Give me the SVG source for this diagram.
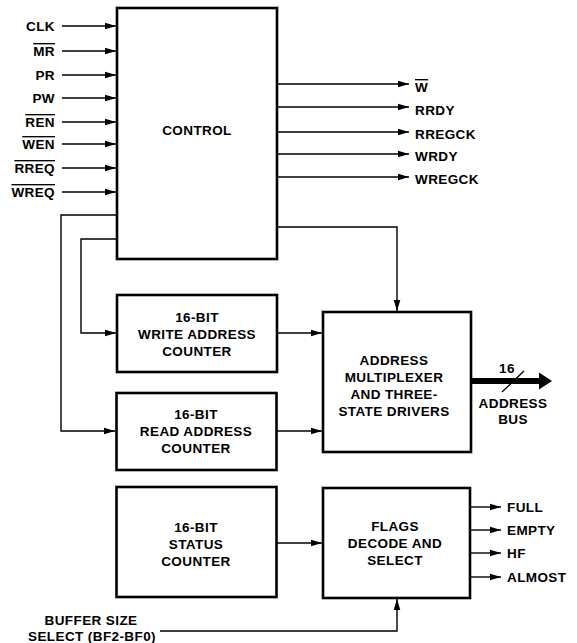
<svg xmlns="http://www.w3.org/2000/svg" width="577" height="643" viewBox="0 0 577 643">
<defs>
<marker id="ah" markerUnits="userSpaceOnUse" markerWidth="12" markerHeight="8" refX="11" refY="4" orient="auto">
<path d="M0,0.7 L11,4 L0,7.3 Z" fill="#000"/>
</marker>
</defs>
<style>
text{font-family:"Liberation Sans",Arial,sans-serif;font-weight:bold;font-size:13.5px;letter-spacing:0.4px;fill:#000}
.c{text-anchor:middle}
.r{text-anchor:end}
.box{fill:#fff;stroke:#000;stroke-width:2.6}
.ln{fill:none;stroke:#000;stroke-width:1.4}
.ob{text-decoration:overline}
</style>
<rect width="577" height="643" fill="#fff"/>

<g id="control"><rect class="box" x="117" y="8" width="160" height="251"/><text class="c" x="197" y="135">CONTROL</text></g>
<g id="write-counter"><rect class="box" x="117" y="295" width="160" height="77"/>
<text class="c" x="197" y="322">16-BIT</text><text class="c" x="197" y="339">WRITE ADDRESS</text><text class="c" x="197" y="356">COUNTER</text></g>
<g id="read-counter"><rect class="box" x="116.5" y="393" width="160" height="77"/>
<text class="c" x="196" y="419">16-BIT</text><text class="c" x="196" y="436">READ ADDRESS</text><text class="c" x="196" y="453">COUNTER</text></g>
<g id="status-counter"><rect class="box" x="116.5" y="487" width="160" height="110"/>
<text class="c" x="196" y="532">16-BIT</text><text class="c" x="196" y="549">STATUS</text><text class="c" x="196" y="566">COUNTER</text></g>
<g id="mux"><rect class="box" x="323" y="312" width="148" height="140"/>
<text class="c" x="394" y="365">ADDRESS</text><text class="c" x="394" y="382">MULTIPLEXER</text><text class="c" x="394" y="399">AND THREE-</text><text class="c" x="394" y="416">STATE DRIVERS</text></g>
<g id="flags"><rect class="box" x="323" y="488" width="147" height="110"/>
<text class="c" x="395" y="531">FLAGS</text><text class="c" x="395" y="548">DECODE AND</text><text class="c" x="395" y="565">SELECT</text></g>

<g id="inputs">
<text class="r" x="55" y="31">CLK</text>
<text class="r" x="55" y="56"><tspan class="ob">MR</tspan></text>
<text class="r" x="55" y="80">PR</text>
<text class="r" x="55" y="103">PW</text>
<text class="r" x="55" y="127"><tspan class="ob">REN</tspan></text>
<text class="r" x="55" y="149"><tspan class="ob">WEN</tspan></text>
<text class="r" x="55" y="173"><tspan class="ob">RREQ</tspan></text>
<text class="r" x="55" y="197"><tspan class="ob">WREQ</tspan></text>
</g>
<g id="outputs">
<text x="415" y="92"><tspan class="ob">W</tspan></text>
<text x="415" y="115">RRDY</text>
<text x="415" y="139">RREGCK</text>
<text x="415" y="161">WRDY</text>
<text x="415" y="184">WREGCK</text>
<text x="507" y="512">FULL</text>
<text x="507" y="535">EMPTY</text>
<text x="507" y="558">HF</text>
<text x="507" y="582">ALMOST</text>
</g>
<g id="bus-labels">
<text class="c" x="507" y="373">16</text>
<text class="c" x="513" y="408">ADDRESS</text>
<text class="c" x="513" y="424">BUS</text>
</g>
<g id="buffer-select">
<text class="c" x="91" y="625">BUFFER SIZE</text>
<text class="c" x="92" y="641">SELECT (BF2-BF0)</text>
</g>

<g id="connectors">
<path class="ln" marker-end="url(#ah)" d="M62,26 H116"/>
<path class="ln" marker-end="url(#ah)" d="M62,51 H116"/>
<path class="ln" marker-end="url(#ah)" d="M62,75 H116"/>
<path class="ln" marker-end="url(#ah)" d="M62,98 H116"/>
<path class="ln" marker-end="url(#ah)" d="M62,122 H116"/>
<path class="ln" marker-end="url(#ah)" d="M62,144 H116"/>
<path class="ln" marker-end="url(#ah)" d="M62,168 H116"/>
<path class="ln" marker-end="url(#ah)" d="M62,192 H116"/>
<path class="ln" marker-end="url(#ah)" d="M277,84 H409"/>
<path class="ln" marker-end="url(#ah)" d="M277,107 H409"/>
<path class="ln" marker-end="url(#ah)" d="M277,132 H409"/>
<path class="ln" marker-end="url(#ah)" d="M277,154 H409"/>
<path class="ln" marker-end="url(#ah)" d="M277,177 H409"/>
<path class="ln" marker-end="url(#ah)" d="M117,215 H61 V431 H115"/>
<path class="ln" marker-end="url(#ah)" d="M117,239 H81 V333 H116"/>
<path class="ln" marker-end="url(#ah)" d="M277,227 H397 V311"/>
<path class="ln" marker-end="url(#ah)" d="M277,333 H322"/>
<path class="ln" marker-end="url(#ah)" d="M277,431 H322"/>
<path class="ln" marker-end="url(#ah)" d="M277,543 H322"/>
<path class="ln" marker-end="url(#ah)" d="M160,631 H397 V599"/>
<path class="ln" marker-end="url(#ah)" d="M470,507 H501"/>
<path class="ln" marker-end="url(#ah)" d="M470,530 H501"/>
<path class="ln" marker-end="url(#ah)" d="M470,553 H501"/>
<path class="ln" marker-end="url(#ah)" d="M470,577 H501"/>
<path d="M471,378 H539 V372.5 L552,381 L539,389.5 V384 H471 Z" fill="#000"/>
<path class="ln" d="M502,392 L524,371"/>
</g>
</svg>
